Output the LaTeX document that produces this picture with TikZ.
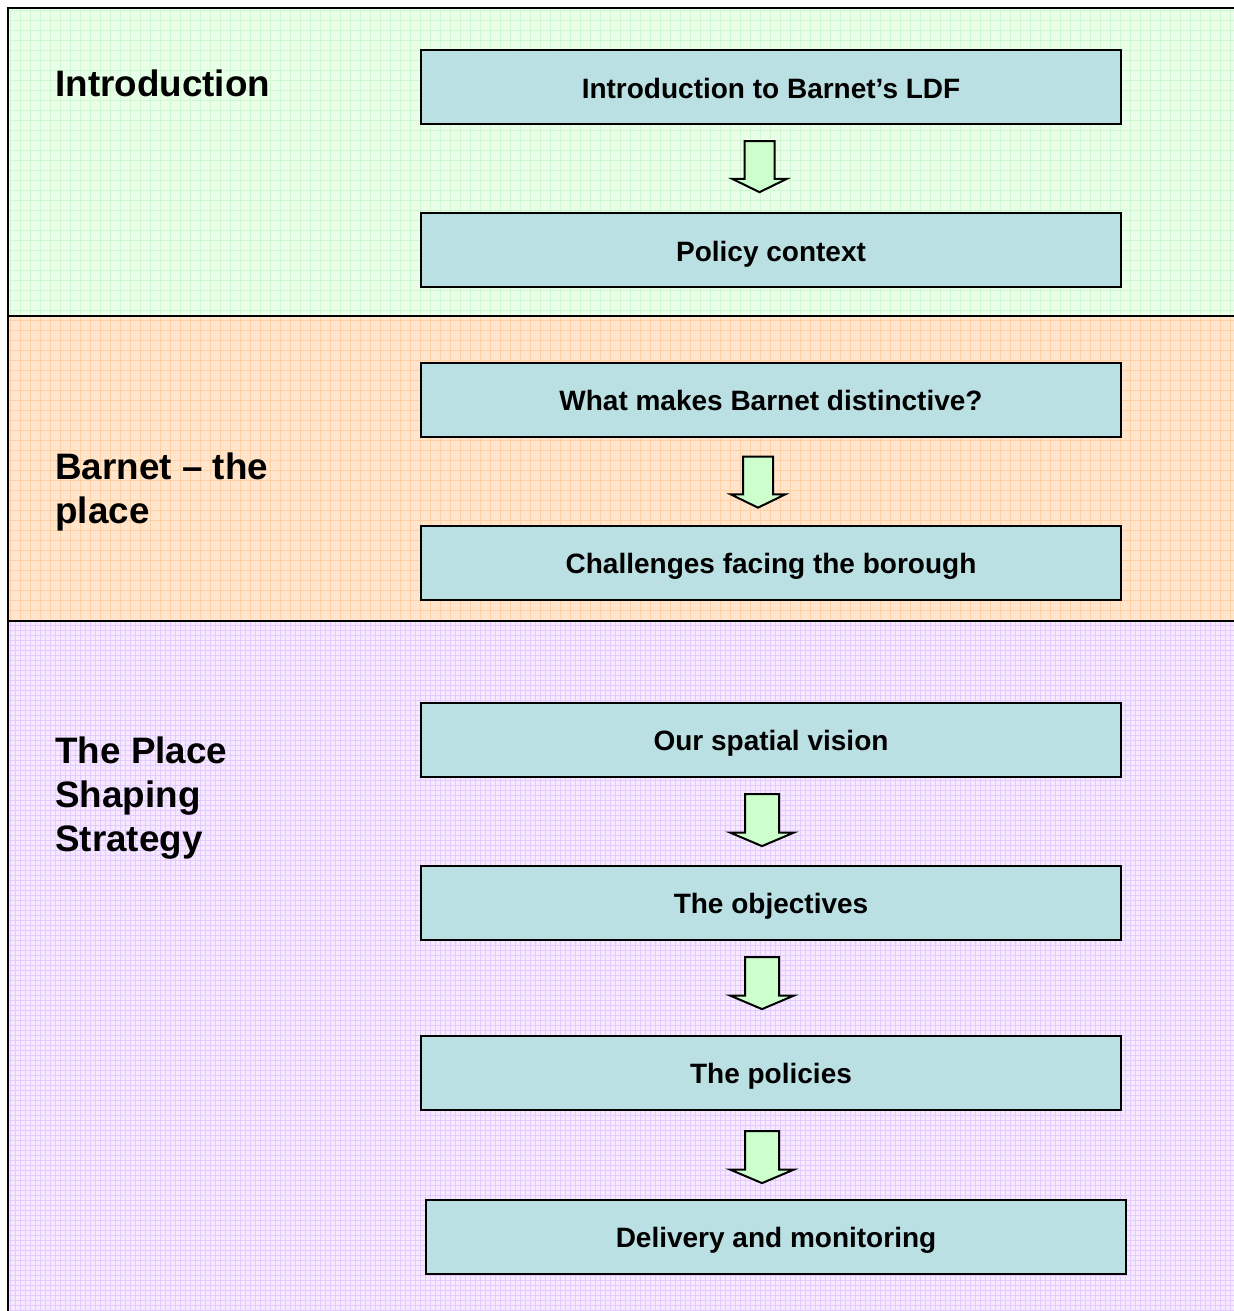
\documentclass[tikz,border=0pt]{standalone}
\usepackage{fontspec}
\setmainfont{Liberation Sans}
\usetikzlibrary{shapes, arrows}
\definecolor{boxblue}{RGB}{187,224,227}
\definecolor{arrowgreen}{RGB}{204,255,204}
\definecolor{introbg}{RGB}{233,255,233}
\definecolor{introgrid}{RGB}{208,248,208}
\definecolor{placebg}{RGB}{255,229,204}
\definecolor{placegrid}{RGB}{255,208,164}
\definecolor{strategybg}{RGB}{245,234,255}
\definecolor{strategygrid}{RGB}{228,202,255}
\tikzstyle{stagebox} = [rectangle, minimum width=350pt, minimum height=37pt, text height=12pt, text depth=1pt, text centered, draw=black, line width=1pt, fill=boxblue, font=\bfseries\fontsize{14}{16}\selectfont]
\tikzstyle{paneltitle} = [anchor=north west, inner sep=0pt, align=left, font=\bfseries\fontsize{18.4}{22}\selectfont]
\tikzstyle{flowarrow} = [single arrow, draw=black, line width=1pt, fill=arrowgreen, rotate=-90, inner xsep=0pt, inner ysep=7pt, single arrow head extend=6pt, single arrow tip angle=128, minimum height=25.5pt, minimum width=26pt]
\tikzstyle{widearrow} = [flowarrow, inner ysep=8pt, single arrow head extend=7.5pt, single arrow tip angle=134, minimum height=26pt, minimum width=31pt]

\begin{document}
\begin{tikzpicture}[x=0.5pt, y=-0.5pt, node distance=81.5pt]
\useasboundingbox (0,0) rectangle (1234,1311);

% Panels
\fill[introbg] (8,8) rectangle (1234,316);
\draw[introgrid, line width=0.4pt, step=5pt] (8,316) grid (1234,8);
\fill[placebg] (8,316) rectangle (1234,621);
\draw[placegrid, line width=0.5pt, step=5pt] (8,621) grid (1234,316);
\fill[strategybg] (8,621) rectangle (1234,1311);
\draw[strategygrid, line width=0.3pt, step=2.5pt] (8,1311) grid (1234,621);
\draw[line width=1.2pt] (8,1311) -- (8,8) -- (1234,8);
\draw[line width=1.2pt] (8,316) -- (1234,316);
\draw[line width=1.2pt] (8,621) -- (1234,621);

% Titles
\node (introtitle) [paneltitle] at (55,69) {Introduction};
\node (placetitle) [paneltitle] at (55,452) {Barnet – the\\place};
\node (strategytitle) [paneltitle] at (55,736) {The Place\\Shaping\\Strategy};

% Boxes
\node (intro) [stagebox] at (771,87) {Introduction to Barnet’s LDF};
\node (policy) [stagebox, below of=intro] {Policy context};
\node (distinct) [stagebox, below of=policy, yshift=6.75pt] {What makes Barnet distinctive?};
\node (challenges) [stagebox, below of=distinct] {Challenges facing the borough};
\node (vision) [stagebox, below of=challenges, yshift=-7pt] {Our spatial vision};
\node (objectives) [stagebox, below of=vision] {The objectives};
\node (policies) [stagebox, below of=objectives, yshift=-3.5pt] {The policies};
\node (delivery) [stagebox, below of=policies, xshift=2.5pt, yshift=-0.5pt] {Delivery and monitoring};

% Arrows
\node (a1) [below of=intro, node distance=38pt, xshift=-5.75pt, flowarrow] {};
\node (a2) [below of=distinct, node distance=39.5pt, xshift=-6.5pt, flowarrow] {};
\node (a3) [below of=vision, node distance=38.5pt, xshift=-4.5pt, widearrow] {};
\node (a4) [below of=objectives, node distance=38.5pt, xshift=-4.5pt, widearrow] {};
\node (a5) [below of=policies, node distance=40.5pt, xshift=-4.5pt, widearrow] {};

\end{tikzpicture}
\end{document}
